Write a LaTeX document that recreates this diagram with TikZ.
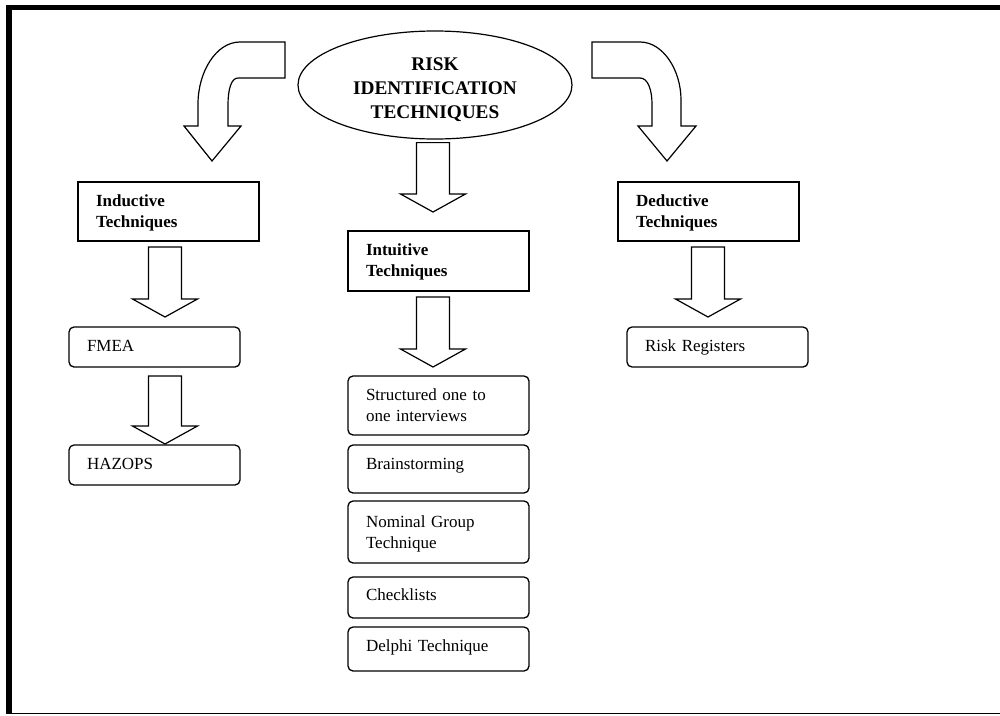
\documentclass[tikz,border=0pt]{standalone}
\usepackage{fontspec}
\setmainfont{Liberation Serif}
\usetikzlibrary{shapes.geometric,calc}

% block arrow pointing down: column, from node, to node, top gap, tip gap
\newcommand{\blockdown}[5]{%
  \draw[block line] let \p1=(#1), \p2=(#2), \p3=(#3) in
    (\x1-16.5pt,\y2-#4) -- (\x1+16.5pt,\y2-#4) -- (\x1+16.5pt,\y3+#5+18pt)
    -- (\x1+32.5pt,\y3+#5+18pt) -- (\x1,\y3+#5) -- (\x1-32.5pt,\y3+#5+18pt)
    -- (\x1-16.5pt,\y3+#5+18pt) -- cycle;}

\begin{document}
\begin{tikzpicture}
		[x=1pt,y=-1pt,line join=miter,
		%Styles
		block line/.style={line width=1.2pt},
		box text/.style={font=\fontsize{17}{21}\selectfont,align=left,anchor=north west,
			inner xsep=18pt,inner ysep=0pt,outer sep=0pt,text width=145pt,text height=24pt},
		headbox/.style={box text,draw,line width=1.3pt,font=\bfseries\fontsize{17}{21}\selectfont},
		itembox/.style={box text,draw,line width=1.3pt,rounded corners=5pt},
		topic/.style={ellipse,draw,line width=1.2pt,inner sep=0pt,minimum width=274pt,
			minimum height=108pt},
		topic text/.style={align=center,inner sep=0pt,font=\bfseries\fontsize{19.3}{24}\selectfont}
		]
		\useasboundingbox (0,0) rectangle (1000,715);
		
		%Frame
		\draw[line width=5pt] (6,7.5) -- (1000,7.5);
		\draw[line width=6pt] (9,5) -- (9,713);
		\draw[line width=1.5pt] (6,713.5) -- (1000,713.5);
		
		%The graphic
		\node[topic] (risk) at (435,85) {};
		\node[topic text] (risktext) at ($(risk.center)+(0,5)$) {RISK\\IDENTIFICATION\\TECHNIQUES};
		
		\node[headbox,text depth=35pt] (ind) at (78,182) {Inductive\\Techniques};
		\node[headbox,text depth=36pt] (intu) at (348,231) {Intuitive\\Techniques};
		\node[headbox,text depth=35pt] (ded) at (618,182) {Deductive\\Techniques};
		
		\node[itembox,text width=135pt,text depth=16pt] (fmea) at (69,327) {FMEA};
		\node[itembox,text width=135pt,text depth=16pt] (haz) at (69,445) {HAZOPS};
		\node[itembox,text depth=16pt] (reg) at (627,327) {Risk Registers};
		
		\node[itembox,text depth=35pt] (struct) at (348,376) {Structured one to\\one interviews};
		\node[itembox,text depth=24pt] (brain) at (348,445) {Brainstorming};
		\node[itembox,text height=26pt,text depth=36pt] (nom) at (348,501) {Nominal Group\\Technique};
		\node[itembox,text height=23pt,text depth=18pt] (check) at (348,577) {Checklists};
		\node[itembox,text depth=20pt] (delphi) at (348,627) {Delphi Technique};
		
		%Bent arrows
		\draw[block line] (285,42) -- (240,42) .. controls (216,42) and (198,72) .. (198,104)
			-- (198,126) -- (184,126) -- (212,161) -- (241,126) -- (228,126) -- (228,105)
			.. controls (228,90) and (231,78) .. (238,78) -- (285,78) -- cycle;
		\draw[block line] (592,42) -- (640,42) .. controls (663,42) and (681,70) .. (681,100)
			-- (681,126) -- (696,126) -- (667,161) -- (638,126) -- (652,126) -- (652,104)
			.. controls (652,90) and (648,78) .. (640,78) -- (592,78) -- cycle;
		
		%Straight arrows
		\coordinate (colL) at (165,0);
		\coordinate (colM) at (433,0);
		\coordinate (colR) at (708,0);
		\blockdown{colM}{risk.south}{intu.north}{3pt}{19pt}
		\blockdown{colL}{ind.south}{fmea.north}{6pt}{10pt}
		\blockdown{colL}{fmea.south}{haz.north}{9pt}{1pt}
		\blockdown{colM}{intu.south}{struct.north}{6pt}{9pt}
		\blockdown{colR}{ded.south}{reg.north}{6pt}{10pt}
	\end{tikzpicture}
\end{document}
